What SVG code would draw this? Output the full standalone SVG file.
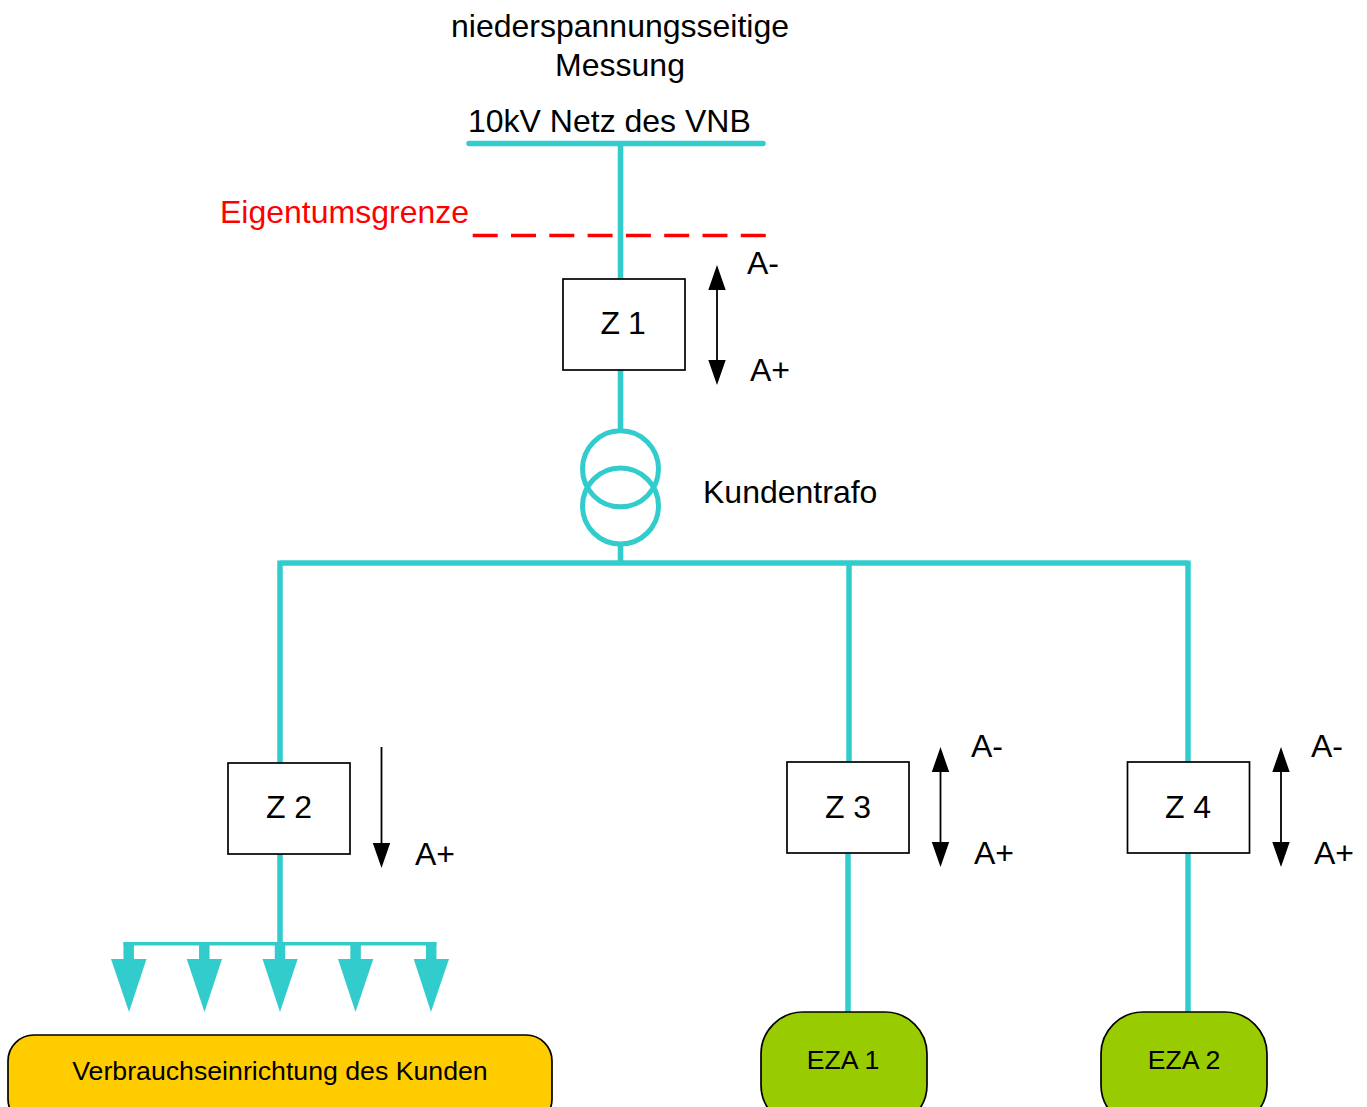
<svg xmlns="http://www.w3.org/2000/svg" width="1367" height="1107" viewBox="0 0 1367 1107">
<style>
text{font-family:"Liberation Sans",Arial,sans-serif;font-size:32px;fill:#000}
.m{text-anchor:middle}
.s{font-size:26.7px}
.w{fill:none;stroke:#33cccc;stroke-width:5.500}
.t{fill:none;stroke:#33cccc;stroke-width:5}
.box{fill:#fff;stroke:#000;stroke-width:1.700}
.a{stroke:#000;stroke-width:1.800;fill:none}
.ah{fill:#000}
.ta{fill:#33cccc}
</style>
<g id="connectors">
<path class="w" d="M469 143.500H763" stroke-linecap="round"/>
<path class="w" d="M620.500 143V279M620.500 370V431M620.500 545V563M280 563H1188M280 560.500V763M849 563V762M1188 560.500V762M280 854V944M848 853V1012M1188 853V1012"/>
<path d="M123.500 943.700H436.500" fill="none" stroke="#33cccc" stroke-width="3.500"/>
<path d="M128.700 942V960M204.300 942V960M280 942V960M355.600 942V960M431.200 942V960" fill="none" stroke="#33cccc" stroke-width="10.500"/>
<path d="M472.700 235.500H768" fill="none" stroke="#ff0000" stroke-width="3.300" stroke-dasharray="25 13.300"/>
</g>
<g id="loads">
<polygon class="ta" points="111,959 146.500,959 129,1012"/>
<polygon class="ta" points="186.700,959 222,959 204.500,1012"/>
<polygon class="ta" points="262.500,959 297.700,959 280,1012"/>
<polygon class="ta" points="338,959 373.300,959 355.500,1012"/>
<polygon class="ta" points="413.700,959 449,959 431,1012"/>
</g>
<g id="trafo">
<circle class="t" cx="620.500" cy="468.800" r="38"/>
<circle class="t" cx="620.500" cy="506" r="38"/>
</g>
<g id="z1"><rect class="box" x="563" y="279" width="122" height="91"/><text x="600.500 619 628" y="334">Z 1</text></g>
<g id="z2"><rect class="box" x="228" y="763" width="122" height="91"/><text class="m" x="289" y="818">Z 2</text></g>
<g id="z3"><rect class="box" x="787" y="762" width="122" height="91"/><text class="m" x="848" y="818">Z 3</text></g>
<g id="z4"><rect class="box" x="1127.500" y="762" width="122" height="91"/><text class="m" x="1188" y="818">Z 4</text></g>
<g id="arrows">
<path class="a" d="M717 285V365M381.500 747V848M940.500 770V846M1281 770V846"/>
<path class="ah" d="M717 265l8.700 25h-17.400zM717 385l8.700 -25h-17.400zM381.500 868l8.700 -25h-17.400zM940.500 747l8.700 25h-17.400zM940.500 867l8.700 -25h-17.400zM1281 747l8.700 25h-17.400zM1281 867l8.700 -25h-17.400z"/>
</g>
<g id="verbrauch"><rect x="8" y="1035" width="544" height="90" rx="26" ry="26" fill="#ffcc00" stroke="#000" stroke-width="1.700"/><text class="m s" x="280" y="1080">Verbrauchseinrichtung des Kunden</text></g>
<g id="eza1"><rect x="761" y="1012" width="166" height="115" rx="42" ry="42" fill="#99cc00" stroke="#000" stroke-width="1.700"/><text class="m s" x="843" y="1069">EZA 1</text></g>
<g id="eza2"><rect x="1101" y="1012" width="166" height="115" rx="42" ry="42" fill="#99cc00" stroke="#000" stroke-width="1.700"/><text class="m s" x="1184" y="1069">EZA 2</text></g>
<g id="labels">
<text class="m" x="620" y="37">niederspannungsseitige</text>
<text class="m" x="620" y="76">Messung</text>
<text x="468" y="132">10kV Netz des VNB</text>
<text x="220" y="223" style="fill:#ff0000">Eigentumsgrenze</text>
<text x="703" y="503">Kundentrafo</text>
<text x="747" y="274">A-</text>
<text x="750" y="381">A+</text>
<text x="415" y="865">A+</text>
<text x="971" y="757">A-</text>
<text x="974" y="864">A+</text>
<text x="1311" y="757">A-</text>
<text x="1314" y="864">A+</text>
</g>
</svg>
